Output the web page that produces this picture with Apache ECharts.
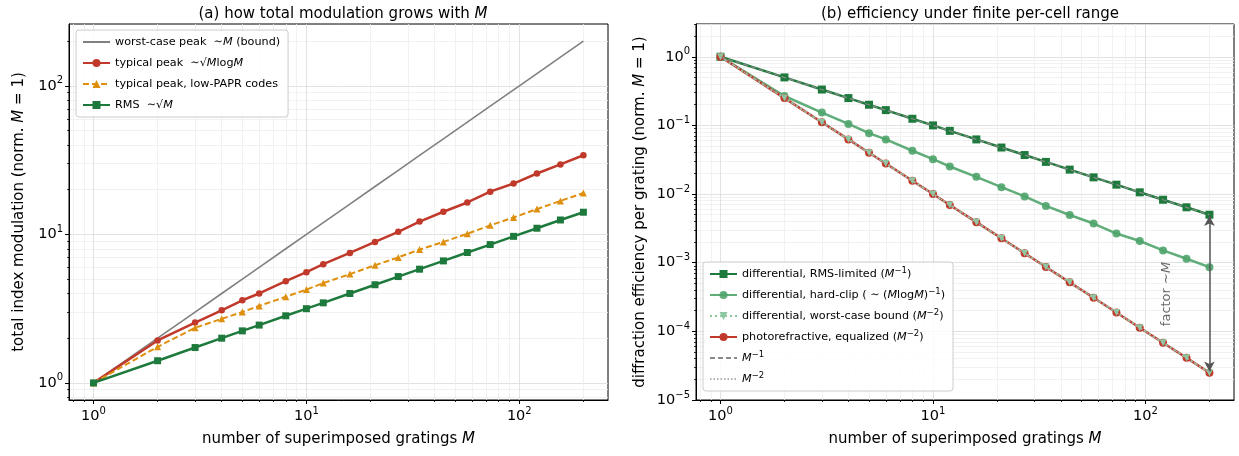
<!DOCTYPE html>
<html>
<head>
<meta charset="utf-8">
<script src="https://cdn.jsdelivr.net/npm/echarts@6/dist/echarts.min.js"></script>
<style>
  html, body { margin: 0; padding: 0; background: #fff; }
  #chart { width: 1239px; height: 456px; }
</style>
</head>
<body>
<div id="chart"></div>
<script>
// number of superimposed gratings
var M = [1, 2, 3, 4, 5, 6, 8, 10, 12, 16, 21, 27, 34, 44, 57, 73, 94, 121, 156, 200];

// (a) total index modulation, normalised at M = 1
var worstPeak = [1, 2, 3, 4, 5, 6, 8, 10, 12, 16, 21, 27, 34, 44, 57, 73, 94, 121, 156, 200];
var typicalPeak = [1, 1.93, 2.55, 3.08, 3.6, 4.0, 4.84, 5.57, 6.3, 7.5, 8.9, 10.4, 12.2, 14.2, 16.4, 19.4, 22.0, 25.7, 29.6, 34.1];
var lowPaprPeak = [1, 1.75, 2.35, 2.7, 3.0, 3.3, 3.8, 4.25, 4.7, 5.4, 6.2, 7.0, 7.9, 8.9, 10.1, 11.5, 13.0, 14.8, 16.8, 19.0];
var rmsLevel = [1, 1.41, 1.73, 2.0, 2.24, 2.45, 2.83, 3.16, 3.46, 4.0, 4.58, 5.2, 5.83, 6.63, 7.55, 8.54, 9.7, 11.0, 12.5, 14.1];

// (b) diffraction efficiency per grating, normalised at M = 1
var effRms = [1, 0.5, 0.333, 0.25, 0.2, 0.167, 0.125, 0.1, 0.0833, 0.0625, 0.0476, 0.037, 0.0294, 0.0227, 0.0175, 0.0137, 0.0106, 0.00826, 0.00641, 0.005];
var effHardClip = [1, 0.268, 0.154, 0.105, 0.077, 0.0625, 0.0427, 0.0322, 0.0252, 0.0178, 0.0126, 0.00925, 0.00672, 0.00496, 0.00372, 0.00266, 0.00207, 0.00151, 0.00114, 0.00086];
var effWorst = [1, 0.25, 0.111, 0.0625, 0.04, 0.0278, 0.0156, 0.01, 0.00694, 0.0039, 0.00227, 0.00137, 0.000865, 0.000517, 0.000308, 0.000188, 0.000113, 0.0000683, 0.0000411, 0.000025];
var effPhoto = [1, 0.25, 0.111, 0.0625, 0.04, 0.0278, 0.0156, 0.01, 0.00694, 0.0039, 0.00227, 0.00137, 0.000865, 0.000517, 0.000308, 0.000188, 0.000113, 0.0000683, 0.0000411, 0.000025];
var refInv1 = [1, 0.5, 0.333, 0.25, 0.2, 0.167, 0.125, 0.1, 0.0833, 0.0625, 0.0476, 0.037, 0.0294, 0.0227, 0.0175, 0.0137, 0.0106, 0.00826, 0.00641, 0.005];
var refInv2 = [1, 0.25, 0.111, 0.0625, 0.04, 0.0278, 0.0156, 0.01, 0.00694, 0.0039, 0.00227, 0.00137, 0.000865, 0.000517, 0.000308, 0.000188, 0.000113, 0.0000683, 0.0000411, 0.000025];

// annotation: arrow between RMS-limited and photorefractive at M = 200
var arrowM = 200;
var arrowTop = 0.0048;
var arrowBottom = 0.000026;
var arrowText = [126, 0.00035];

// tick values
var xMajor = [1, 10, 100];
var xMinor = [0.8, 0.9, 2, 3, 4, 5, 6, 7, 8, 9, 20, 30, 40, 50, 60, 70, 80, 90, 200];
var yMajorA = [1, 10, 100];
var yMinorA = [0.8, 0.9, 2, 3, 4, 5, 6, 7, 8, 9, 20, 30, 40, 50, 60, 70, 80, 90, 200];
var yMajorB = [1e-5, 1e-4, 1e-3, 1e-2, 1e-1, 1];
var yMinorB = [];
[1e-5, 1e-4, 1e-3, 1e-2, 1e-1, 1].forEach(function (d) {
    for (var k = 2; k <= 9; k++) yMinorB.push(+(k * d).toPrecision(3));
});

var FONT = 'DejaVu Sans';
var RICH = {
    t: { fontFamily: FONT, fontSize: 11.2, lineHeight: 16 },
    i: { fontStyle: 'italic', fontFamily: FONT, fontSize: 11.2, lineHeight: 16 },
    isup: { fontSize: 8.5, fontFamily: FONT, verticalAlign: 'top', lineHeight: 9 }
};

function pow10Label(v) {
    var e = Math.round(Math.log10(v));
    return '10{sup|' + (e < 0 ? '\u2212' + (-e) : e) + '}';
}

function majorAxis(dim, grid, min, max, majors, name, gap) {
    return {
        type: 'log', logBase: 10, gridIndex: grid, min: min, max: max,
        position: dim === 'x' ? 'bottom' : 'left',
        name: name, nameLocation: 'middle', nameGap: gap,
        nameTextStyle: { fontFamily: FONT, fontSize: 15, color: '#000',
            rich: { i: { fontStyle: 'italic', fontFamily: FONT, fontSize: 15 } } },
        axisLine: { show: true, onZero: false, lineStyle: { color: '#000', width: 1 } },
        axisTick: { show: true, customValues: majors, length: 4, lineStyle: { color: '#000' } },
        axisLabel: {
            customValues: majors, formatter: pow10Label, margin: 6,
            fontFamily: FONT, fontSize: 14.5, color: '#000', lineHeight: 20,
            rich: { sup: { fontSize: 10, fontFamily: FONT, verticalAlign: 'top', lineHeight: 11, color: '#000' } }
        },
        splitLine: { show: true, lineStyle: { color: '#dadada', width: 0.8 } },
        minorTick: { show: false }
    };
}

function minorAxis(dim, grid, min, max, minors) {
    return {
        type: 'log', logBase: 10, gridIndex: grid, min: min, max: max,
        position: dim === 'x' ? 'bottom' : 'left', offset: 0,
        axisLine: { show: false, onZero: false },
        axisTick: { show: true, customValues: minors, length: 2, lineStyle: { color: '#000', width: 0.8 } },
        axisLabel: { show: false },
        splitLine: { show: true, lineStyle: { color: '#ededed', width: 0.8 } }
    };
}

function pairs(ys) {
    return M.map(function (m, i) { return [m, ys[i]]; });
}

function lineSeries(name, x, y, ys, color, opts) {
    opts = opts || {};
    return {
        name: name, type: 'line', xAxisIndex: x, yAxisIndex: y,
        data: pairs(ys),
        color: color,
        symbol: opts.symbol || 'none',
        showSymbol: !!opts.symbol,
        symbolSize: opts.size || 7,
        symbolRotate: opts.rotate || 0,
        itemStyle: { color: color, opacity: opts.opacity == null ? 1 : opts.opacity },
        lineStyle: { color: color, width: opts.width || 2.5, type: opts.dash || 'solid', opacity: opts.opacity == null ? 1 : opts.opacity },
        z: opts.z || 2,
        silent: true
    };
}

var legendText = {
    'worst': '{t|worst-case peak  \u223c}{i|M}{t| (bound)}',
    'typical': '{t|typical peak  \u223c\u221A}{i|M}{t|log}{i|M}',
    'lowpapr': '{t|typical peak, low-PAPR codes}',
    'rms': '{t|RMS  \u223c\u221A}{i|M}',
    'dRms': '{t|differential, RMS-limited (}{i|M}{isup|\u22121}{t|)}',
    'dClip': '{t|differential, hard-clip ( \u223c (}{i|M}{t|log}{i|M}{t|)}{isup|\u22121}{t|)}',
    'dWorst': '{t|differential, worst-case bound (}{i|M}{isup|\u22122}{t|)}',
    'photo': '{t|photorefractive, equalized (}{i|M}{isup|\u22122}{t|)}',
    'ref1': '{i|M}{isup|\u22121}',
    'ref2': '{i|M}{isup|\u22122}'
};

// legend entries; line-only series get their symbol hidden
function legendItems(names, lineOnly) {
    return names.map(function (n) {
        return lineOnly.indexOf(n) >= 0 ? { name: n, itemStyle: { opacity: 0 } } : { name: n };
    });
}

var legendBase = {
    orient: 'vertical',
    itemWidth: 27, itemHeight: 10, itemGap: 5,
    padding: [4, 8, 4, 6],
    borderColor: '#cccccc', borderWidth: 1, borderRadius: 3,
    backgroundColor: 'rgba(255,255,255,0.85)',
    textStyle: { fontFamily: FONT, fontSize: 11.2, lineHeight: 16, color: '#000', rich: RICH },
    formatter: function (n) { return legendText[n]; },
    selectedMode: false
};

var chart = echarts.init(document.getElementById('chart'));
chart.setOption({
    animation: false,
    backgroundColor: '#fff',
    title: [
        { text: '(a) how total modulation grows with {i|M}', left: 338, top: 2, textAlign: 'center',
          textStyle: { fontFamily: FONT, fontSize: 15, fontWeight: 'normal', color: '#000',
              rich: { i: { fontStyle: 'italic', fontSize: 15, fontFamily: FONT } } } },
        { text: '(b) efficiency under finite per-cell range', left: 965, top: 2, textAlign: 'center',
          textStyle: { fontFamily: FONT, fontSize: 15, fontWeight: 'normal', color: '#000' } }
    ],
    grid: [
        { left: 69, top: 24, width: 539, height: 376, show: true, borderColor: '#000', borderWidth: 1, backgroundColor: 'transparent' },
        { left: 696, top: 24, width: 538, height: 376, show: true, borderColor: '#000', borderWidth: 1, backgroundColor: 'transparent' }
    ],
    xAxis: [
        majorAxis('x', 0, 0.767, 261, xMajor, 'number of superimposed gratings {i|M}', 32),
        minorAxis('x', 0, 0.767, 261, xMinor),
        majorAxis('x', 1, 0.767, 261, xMajor, 'number of superimposed gratings {i|M}', 32),
        minorAxis('x', 1, 0.767, 261, xMinor)
    ],
    yAxis: [
        majorAxis('y', 0, 0.767, 261, yMajorA, 'total index modulation (norm. {i|M} = 1)', 42),
        minorAxis('y', 0, 0.767, 261, yMinorA),
        majorAxis('y', 1, 1e-5, 3, yMajorB, 'diffraction efficiency per grating (norm. {i|M} = 1)', 48),
        minorAxis('y', 1, 1e-5, 3, yMinorB)
    ],
    legend: [
        Object.assign({}, legendBase, { left: 76, top: 30,
            data: legendItems(['worst', 'typical', 'lowpapr', 'rms'], ['worst']) }),
        Object.assign({}, legendBase, { left: 703, bottom: 65,
            data: legendItems(['dRms', 'dClip', 'dWorst', 'photo', 'ref1', 'ref2'], ['ref1', 'ref2']) })
    ],
    series: [
        lineSeries('worst', 0, 0, worstPeak, '#808080', { width: 1.6 }),
        lineSeries('typical', 0, 0, typicalPeak, '#c0392b', { symbol: 'circle', size: 6.5 }),
        lineSeries('lowpapr', 0, 0, lowPaprPeak, '#de8f0e', { symbol: 'triangle', size: 7, dash: [6, 3], width: 2 }),
        lineSeries('rms', 0, 0, rmsLevel, '#1e7a3c', { symbol: 'rect', size: 7 }),

        lineSeries('dRms', 2, 2, effRms, '#1e7a3c', { symbol: 'rect', size: 8 }),
        lineSeries('dClip', 2, 2, effHardClip, '#4fa46c', { symbol: 'circle', size: 8, opacity: 0.9 }),
        lineSeries('photo', 2, 2, effPhoto, '#c0392b', { symbol: 'circle', size: 8 }),
        lineSeries('dWorst', 2, 2, effWorst, '#8cc79f', { symbol: 'triangle', rotate: 180, size: 7, dash: [2, 3], width: 2, z: 3 }),
        lineSeries('ref1', 2, 2, refInv1, '#8a8a8a', { dash: [5, 3], width: 1.2, z: 4 }),
        lineSeries('ref2', 2, 2, refInv2, '#b0b0b0', { dash: [1.5, 2], width: 1.2, z: 4 }),

        {
            type: 'scatter', xAxisIndex: 2, yAxisIndex: 2, silent: true, z: 5,
            data: [arrowText], symbolSize: 0,
            label: {
                show: true, position: 'inside', rotate: 90,
                formatter: 'factor \u223c{i|M}',
                fontFamily: FONT, fontSize: 13, color: '#444',
                rich: { i: { fontStyle: 'italic', fontFamily: FONT, fontSize: 13, color: '#444' } }
            },
            markLine: {
                silent: true, symbol: ['arrow', 'arrow'], symbolSize: [8, 10],
                label: { show: false },
                lineStyle: { color: '#555', width: 1.5, type: 'solid' },
                data: [[{ coord: [arrowM, arrowTop] }, { coord: [arrowM, arrowBottom] }]]
            }
        }
    ]
});
</script>
</body>
</html>
